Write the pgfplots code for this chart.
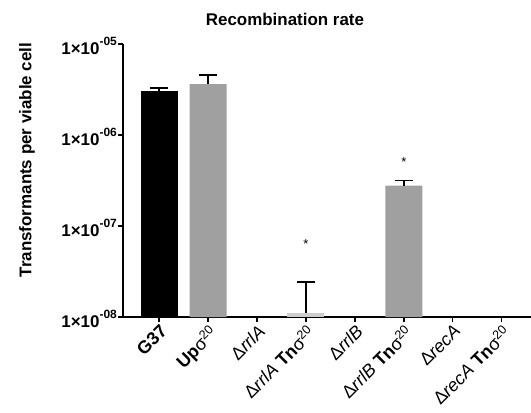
\documentclass[border=0pt]{standalone}
\usepackage{pgfplots}
\pgfplotsset{compat=1.18}
\usepackage{fontspec}
\setmainfont{Liberation Sans}
\definecolor{bargray}{RGB}{160,160,160}
\definecolor{lightbar}{RGB}{205,205,205}
\newcommand{\expo}[1]{\raisebox{0.5em}{\fontsize{12}{12}\selectfont #1}}
\begin{document}
\begin{tikzpicture}
\useasboundingbox (0,0) rectangle (531bp,413bp);
\begin{axis}[
  at={(123bp,96bp)}, anchor=south west,
  scale only axis, width=408bp, height=273bp,
  ymode=log, ymin=1e-8, ymax=1e-5, log origin=infty,
  xmin=-0.74, xmax=7.6,
  axis x line*=bottom, axis y line*=left,
  axis line style={line width=1.8bp, -},
  every tick/.style={black, line width=1.5bp},
  major tick length=5bp, tick align=outside,
  minor tick num=0,
  yminorticks=false,
  ytick={1e-8,1e-7,1e-6,1e-5},
  yticklabels={\textbf{1×10\expo{-08}},\textbf{1×10\expo{-07}},\textbf{1×10\expo{-06}},\textbf{1×10\expo{-05}}},
  yticklabel style={font=\fontsize{17}{19}\selectfont, inner sep=1bp, yshift=-2bp},
  xtick={0,1,2,3,4,5,6,7},
  xticklabels={
    \textbf{G37},
    \textbf{Up}σ\textsuperscript{20},
    Δ\textit{rrlA},
    Δ\textit{rrlA} \textbf{Tn}σ\textsuperscript{20},
    Δ\textit{rrlB},
    Δ\textit{rrlB} \textbf{Tn}σ\textsuperscript{20},
    Δ\textit{recA},
    Δ\textit{recA} \textbf{Tn}σ\textsuperscript{20}},
  xticklabel style={font=\fontsize{18}{20}\selectfont, rotate=45, anchor=north east, inner sep=1bp},
  title={Recombination rate},
  title style={font=\fontsize{17}{19}\selectfont\bfseries, at={(rel axis cs:0.397,1)}, anchor=base, yshift=13bp},
  ylabel={Transformants per viable cell},
  ylabel style={font=\fontsize{17}{19}\selectfont\bfseries, at={(rel axis cs:-0.235,0.575)}, anchor=center},
  clip=false,
  error bars/y dir=plus, error bars/y explicit,
  error bars/error bar style={line width=1.5bp, black},
  error bars/error mark options={line width=1.5bp, black, mark size=9bp, rotate=90},
]
\addplot[ybar, bar width=37bp, fill=black, draw=none] coordinates {(0,3.07e-6) +- (0,0.2e-6)};
\addplot[ybar, bar width=37bp, fill=bargray, draw=none] coordinates {(1,3.63e-6) +- (0,0.93e-6) (5,2.77e-7) +- (0,0.38e-7)};
\addplot[ybar, bar width=37bp, fill=lightbar, draw=none] coordinates {(3,1.1e-8) +- (0,1.34e-8)};
\addplot[draw=none, mark=none, nodes near coords={*}, every node near coord/.append style={anchor=center, font=\fontsize{13}{14}\selectfont, yshift=-3bp}] coordinates {(3,6.9e-8) (5,5.44e-7)};
\end{axis}
\end{tikzpicture}
\end{document}
